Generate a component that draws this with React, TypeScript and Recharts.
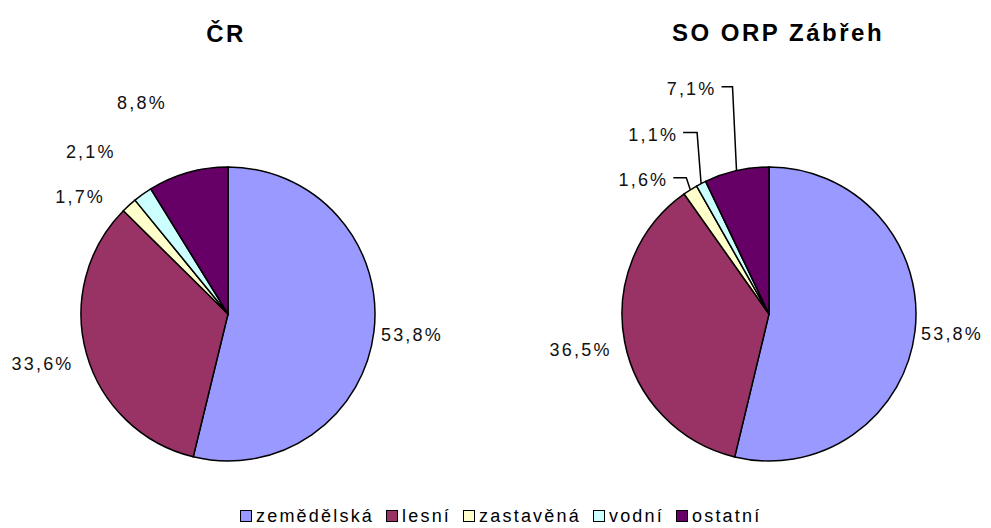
import React from 'react';
import { PieChart, Pie, Cell } from 'recharts';

const categories = ['zemědělská', 'lesní', 'zastavěná', 'vodní', 'ostatní'];
const crValues = [53.8, 33.6, 1.7, 2.1, 8.8];
const orpValues = [53.8, 36.5, 1.6, 1.1, 7.1];
const titles = ['ČR', 'SO ORP Zábřeh'];

const colors = ['#9999FF', '#993366', '#FFFFCC', '#CCFFFF', '#660066'];
const FONT = '"Liberation Sans", Arial, sans-serif';

const crData = categories.map((name, i) => ({ name, value: crValues[i] }));
const orpData = categories.map((name, i) => ({ name, value: orpValues[i] }));

// label nudges relative to the slice's outer edge point (styling only)
const crNudge = [
  { dx: 7, dy: 3, anchor: 'start' },
  { dx: -13, dy: 10, anchor: 'end' },
  { dx: -24, dy: -8, anchor: 'end' },
  { dx: -27, dy: -42, anchor: 'end' },
  { dx: -21, dy: -70, anchor: 'end' },
];
const orpNudge = [
  { dx: 6, dy: 3, anchor: 'start', line: false },
  { dx: -13, dy: 8, anchor: 'end', line: false },
  { dx: -22, dy: -10, anchor: 'end', line: true },
  { dx: -23, dy: -49, anchor: 'end', line: true },
  { dx: -20, dy: -82, anchor: 'end', line: true },
];

const RAD = Math.PI / 180;
const fmt = (v: number) => v.toFixed(1).replace('.', ',') + '%';

const makeLabel = (nudges: any[]) => (props: any) => {
  const { cx, cy, midAngle, outerRadius, index, value } = props;
  const ex = cx + outerRadius * Math.cos(-midAngle * RAD);
  const ey = cy + outerRadius * Math.sin(-midAngle * RAD);
  const n = nudges[index];
  const tx = ex + n.dx;
  const ty = ey + n.dy;
  return (
    <g key={`lbl-${index}`}>
      {n.line && (
        <path
          d={`M${tx + 5},${ty - 2}H${ex - 4}L${ex},${ey}`}
          stroke="#000"
          strokeWidth={1.5}
          fill="none"
        />
      )}
      <text
        x={tx}
        y={ty}
        textAnchor={n.anchor}
        dominantBaseline="central"
        fontFamily={FONT}
        fontSize={18}
        letterSpacing={2.2}
        fill="#111"
      >
        {fmt(value)}
      </text>
    </g>
  );
};

export default function App() {
  return (
    <div style={{ position: 'absolute', left: 0, top: 0, width: 991, height: 528, background: '#fff' }}>
      <PieChart width={991} height={528} margin={{ top: 0, right: 0, bottom: 0, left: 0 }}>
        <Pie
          data={crData}
          dataKey="value"
          cx={228}
          cy={314}
          outerRadius={147}
          startAngle={90}
          endAngle={-270}
          stroke="#000"
          strokeWidth={1.5}
          isAnimationActive={false}
          labelLine={false}
          label={makeLabel(crNudge)}
        >
          {crData.map((d, i) => (
            <Cell key={d.name} fill={colors[i]} />
          ))}
        </Pie>
        <Pie
          data={orpData}
          dataKey="value"
          cx={769}
          cy={314}
          outerRadius={147}
          startAngle={90}
          endAngle={-270}
          stroke="#000"
          strokeWidth={1.5}
          isAnimationActive={false}
          labelLine={false}
          label={makeLabel(orpNudge)}
        >
          {orpData.map((d, i) => (
            <Cell key={d.name} fill={colors[i]} />
          ))}
        </Pie>
      </PieChart>
      <svg width={991} height={528} style={{ position: 'absolute', left: 0, top: 0, pointerEvents: 'none' }}>
        <text x={226} y={42} textAnchor="middle" fontFamily={FONT} fontWeight="bold" fontSize={24} letterSpacing={2.5} fill="#000">
          {titles[0]}
        </text>
        <text x={778} y={41} textAnchor="middle" fontFamily={FONT} fontWeight="bold" fontSize={24} letterSpacing={2.5} fill="#000">
          {titles[1]}
        </text>
      </svg>
      <div
        style={{
          position: 'absolute',
          left: 240,
          top: 506,
          display: 'flex',
          alignItems: 'center',
          fontFamily: FONT,
          fontSize: 18,
          letterSpacing: 2.2,
          lineHeight: '20px',
          color: '#000',
          whiteSpace: 'nowrap',
        }}
      >
        {categories.map((c, i) => (
          <div key={c} style={{ display: 'flex', alignItems: 'center', marginRight: 12 }}>
            <span
              style={{
                display: 'inline-block',
                width: 10,
                height: 10,
                background: colors[i],
                border: '1px solid #000',
                marginRight: 4,
              }}
            />
            <span>{c}</span>
          </div>
        ))}
      </div>
    </div>
  );
}
